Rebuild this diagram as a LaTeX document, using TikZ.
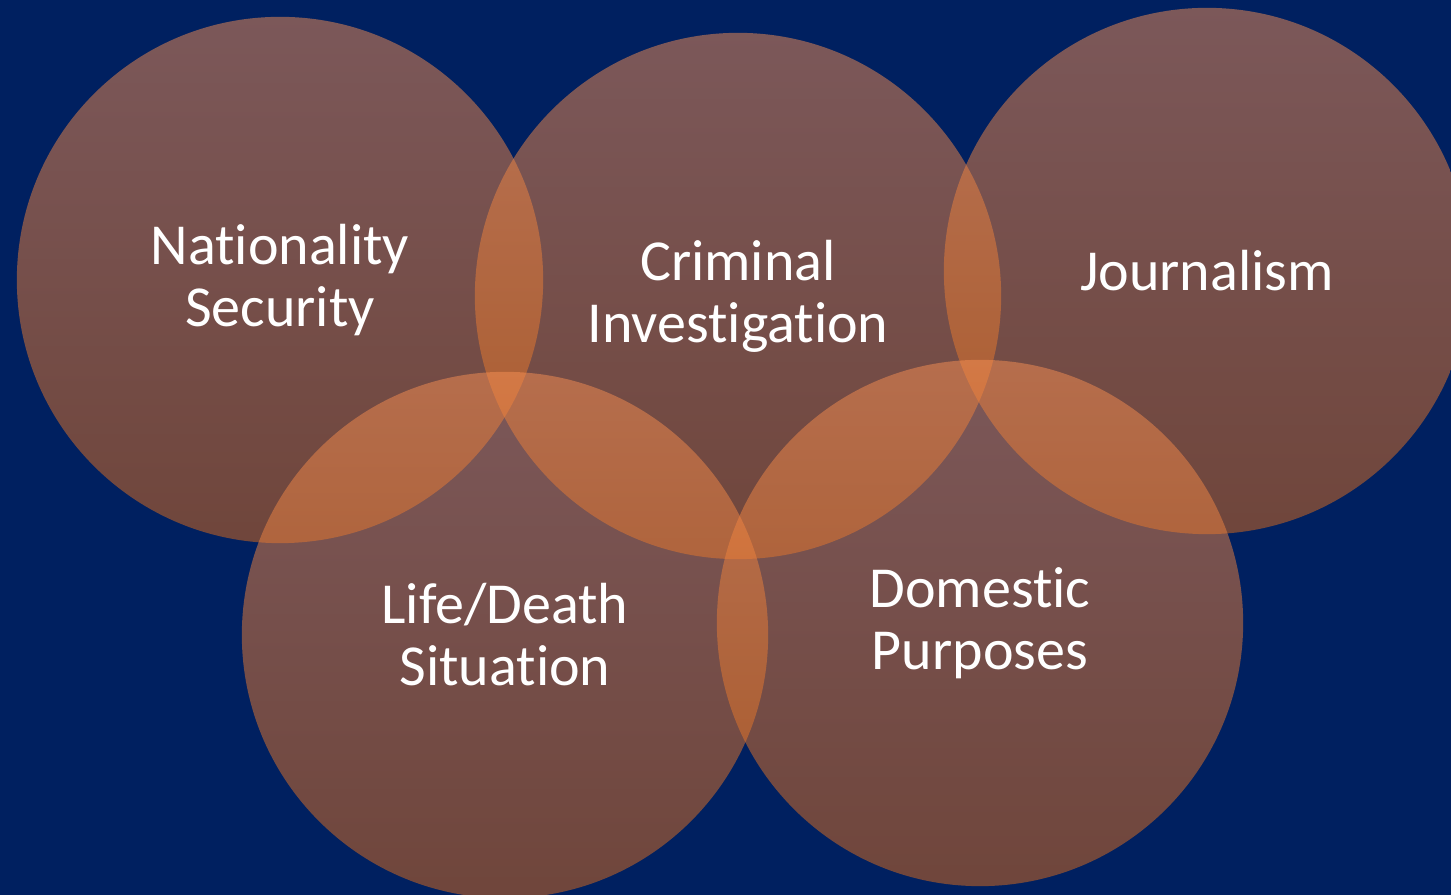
\documentclass[tikz,border=0pt]{standalone}
\usepackage{fontspec}
\setmainfont{Carlito}[Ligatures={NoCommon}]
\usepackage{tikz}

\definecolor{slidebg}{RGB}{0,32,96}
\definecolor{ringtop}{RGB}{248,144,84}
\definecolor{ringbot}{RGB}{224,108,24}

\begin{document}
\begin{tikzpicture}
[x=0.01cm, y=-0.01cm,
bubble/.style={circle, minimum size=5.26cm, inner sep=0pt, shading=axis,
  top color=ringtop, bottom color=ringbot, fill opacity=0.5, text opacity=1,
  text=white, align=center, font=\fontsize{16.5}{17.6}\selectfont}]
\fill[slidebg] (0,0) rectangle (1451,895);
\useasboundingbox (0,0) rectangle (1451,895);
\node[bubble] (natsec) at (280,280) {Nationality\\Security};
\node[bubble] (crime) at (738,296) {Criminal\\Investigation};
\node[bubble] (press) at (1207,271) {Journalism};
\node[bubble] (lifedeath) at (505,635) {Life/Death\\Situation};
\node[bubble] (domestic) at (980,623) {Domestic\\Purposes};
\end{tikzpicture}
\end{document}
